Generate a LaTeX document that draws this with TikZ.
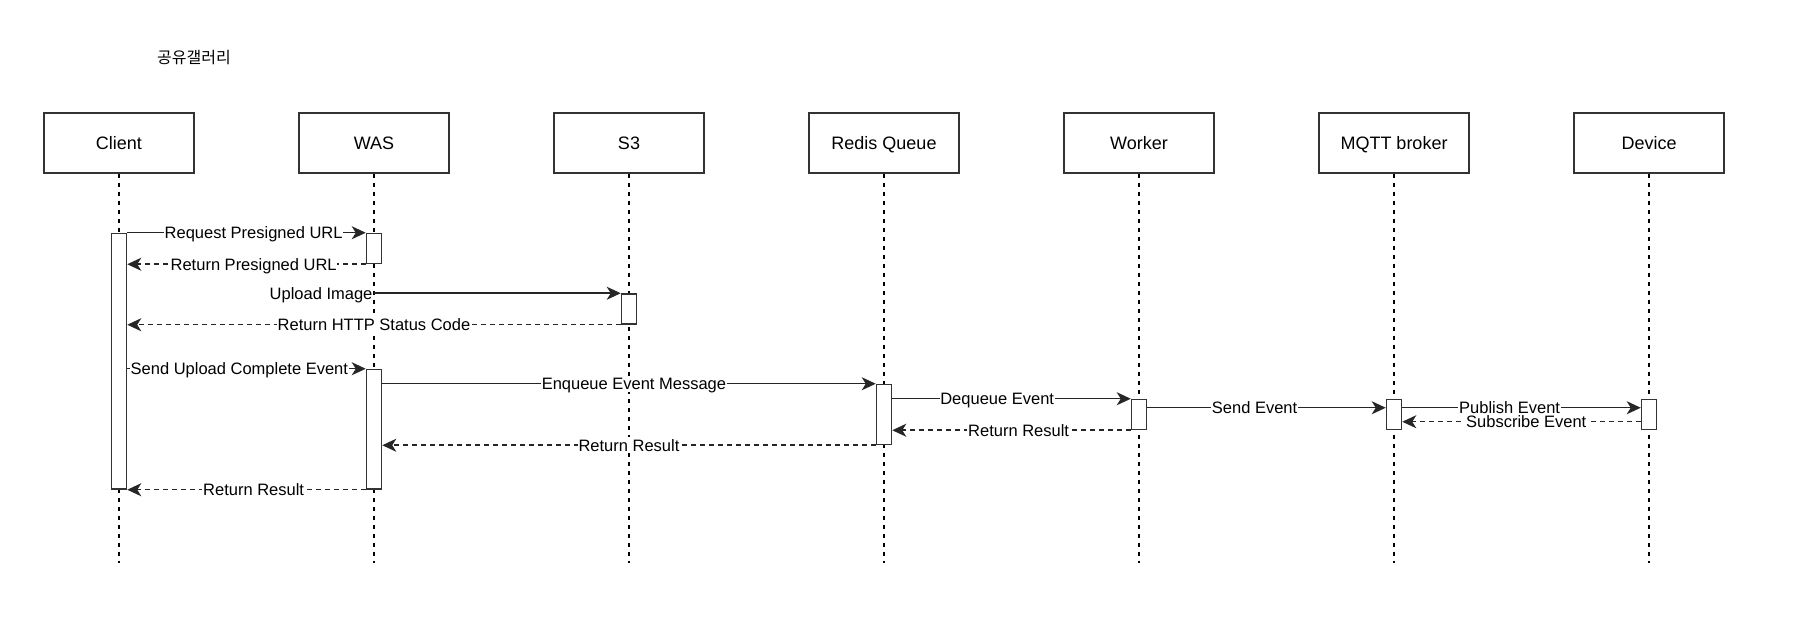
\documentclass[tikz,border=0pt]{standalone}
\usepackage{fontspec}
\setmainfont{Liberation Sans}
\newfontfamily\krfont{Noto Sans CJK KR}
\usetikzlibrary{positioning, arrows.meta}
\tikzset{
every picture/.style={
line width=0.75pt
}}

\begin{document}
\begin{tikzpicture}[x=0.5pt, y=-0.5pt,
lifebox/.style = {rectangle, draw=black!80, minimum width=75pt, minimum height=30pt, text height=7.4pt, text depth=1pt, font=\fontsize{9}{11}\selectfont},
actbar/.style = {rectangle, draw=black!80, fill=white, minimum width=7.5pt, inner sep=0pt},
lifeline/.style = {draw=black, line width=0.6pt, dash pattern=on 2.25pt off 2.25pt},
msg/.style = {draw=black!85, -{Stealth[length=7pt, width=6.5pt, inset=2pt]}},
reply/.style = {msg, dash pattern=on 2.25pt off 2.25pt},
txt/.style = {fill=white, inner sep=0.4pt, text height=6.6pt, text depth=0.4pt, font=\fontsize{8.25}{10}\selectfont},
node distance = 51.75pt]

\useasboundingbox (0,0) rectangle (1820,640);

\node[font=\krfont\fontsize{8}{10}\selectfont] (title) at (194,58) {공유갤러리};

% participants
\node[lifebox] (client) at (119,143) {Client};
\node[lifebox, right=of client] (was) {WAS};
\node[lifebox, right=of was] (s3) {S3};
\node[lifebox, right=of s3] (redis) {Redis Queue};
\node[lifebox, right=of redis] (worker) {Worker};
\node[lifebox, right=of worker] (mqtt) {MQTT broker};
\node[lifebox, right=of mqtt] (device) {Device};

\coordinate (bottom) at (0,563);
\foreach \n in {client, was, s3, redis, worker, mqtt, device}
  \draw[lifeline] (\n.south) -- (\n.south |- bottom);

% activations
\node[actbar, minimum height=127.75pt, below=29.5pt of client] (clientact) {};
\node[actbar, minimum height=15pt, below=29.5pt of was] (wasact1) {};
\node[actbar, minimum height=15pt, below=59.75pt of s3] (s3act) {};
\node[actbar, minimum height=59.75pt, below=97.5pt of was] (wasact2) {};
\node[actbar, minimum height=30pt, below=105pt of redis] (redisact) {};
\node[actbar, minimum height=15pt, below=112.5pt of worker] (workeract) {};
\node[actbar, minimum height=15pt, below=112.5pt of mqtt] (mqttact) {};
\node[actbar, minimum height=15pt, below=112.5pt of device] (deviceact) {};

% messages
\draw[msg] (clientact.north east) -- node[txt, pos=0.53] {Request Presigned URL} (wasact1.north west);
\draw[reply] (wasact1.south west) -- node[txt, pos=0.47] {Return Presigned URL} (wasact1.south west -| clientact.east);
\draw[msg] (s3act.north west -| was) -- node[txt, pos=0, anchor=east] {Upload Image} (s3act.north west);
\draw[reply] (s3act.south west) -- node[txt] {Return HTTP Status Code} (s3act.south west -| clientact.east);
\draw[msg] (wasact2.north west -| clientact.east) -- node[txt, pos=0.47] {Send Upload Complete Event} (wasact2.north west);
\draw[msg] (redisact.north west -| wasact2.east) -- node[txt, pos=0.51] {Enqueue Event Message} (redisact.north west);
\draw[msg] (workeract.north west -| redisact.east) -- node[txt, pos=0.44] {Dequeue Event} (workeract.north west);
\draw[reply] (workeract.south west) -- node[txt, pos=0.47] {Return Result} (workeract.south west -| redisact.east);
\draw[reply] (redisact.south west) -- node[txt] {Return Result} (redisact.south west -| wasact2.east);
\draw[msg] ([yshift=-4.5pt]workeract.north east) -- node[txt, pos=0.45] {Send Event} ([yshift=-4.5pt]mqttact.north west);
\draw[msg] ([yshift=-4.5pt]mqttact.north east) -- node[txt, pos=0.45] {Publish Event} ([yshift=-4.5pt]deviceact.north west);
\draw[reply] ([yshift=-11.5pt]deviceact.north west) -- node[txt, pos=0.48] {Subscribe Event} ([yshift=-11.5pt]mqttact.north east);
\draw[reply] (wasact2.south west) -- node[txt, pos=0.47] {Return Result} (wasact2.south west -| clientact.east);

\end{tikzpicture}
\end{document}
